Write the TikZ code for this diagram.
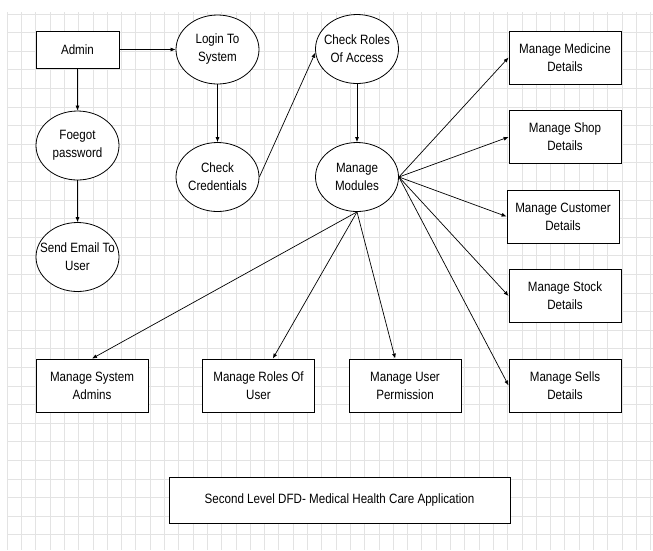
\documentclass[tikz,border=0pt]{standalone}
\usepackage{fontspec}
\setmainfont{Liberation Sans}[FakeStretch=0.86]
\usetikzlibrary{shapes.geometric}
\usetikzlibrary{arrows.meta}
\newcommand{\dfdfont}{\fontsize{13.5}{18}\selectfont}
\tikzstyle{gridline}=[gray!22,line width=0.5pt]
\tikzstyle{entitybox}=[draw,fill=white,line width=0.8pt,minimum width=112pt,minimum height=53pt,inner sep=0pt,align=center,font=\dfdfont]
\tikzstyle{processbubble}=[ellipse,draw,fill=white,line width=0.8pt,minimum width=83pt,minimum height=69pt,inner sep=0pt]
\tikzstyle{bubbletext}=[inner sep=0pt,align=center,font=\dfdfont]
\tikzstyle{dataflow}=[-{Latex[length=5pt,width=4pt]},line width=0.7pt]
\newcommand{\drawbubble}[4]{
\node[processbubble] (#1) at (#2,#3) {};
\node[bubbletext] (#1text) at (#1) {#4};
}

\begin{document}
\begin{tikzpicture}[x=1pt,y=-1pt]
  \useasboundingbox (0,0) rectangle (653,550);
  % background grid
  \foreach \i in {0,1,...,45} {
    \draw[gridline] (7+14.3*\i,12) -- (7+14.3*\i,550);
  }
  \foreach \j in {-17,-16,...,11} {
    \draw[gridline] (7,330+18.6*\j) -- (653,330+18.6*\j);
  }
  % left column
  \node[entitybox,minimum width=83pt,minimum height=37pt] (admin) at (77.5,49.5) {Admin};
  \drawbubble{forgot}{77.5}{145.5}{Foegot\\password}
  \drawbubble{sendmail}{77.5}{257}{Send Email To\\User}
  % login path
  \drawbubble{login}{217.5}{49.5}{Login To\\System}
  \drawbubble{credentials}{217.5}{177}{Check\\Credentials}
  \drawbubble{roles}{357}{49}{Check Roles\\Of Access}
  \drawbubble{modules}{357}{177}{Manage\\Modules}
  % modules
  \node[entitybox] (medicine) at (565,57.5) {Manage Medicine\\Details};
  \node[entitybox] (shop) at (565,137) {Manage Shop\\Details};
  \node[entitybox] (customer) at (563,216.5) {Manage Customer\\Details};
  \node[entitybox] (stock) at (565,296) {Manage Stock\\Details};
  \node[entitybox] (sells) at (565,385.5) {Manage Sells\\Details};
  \node[entitybox] (sysadmins) at (92,385.5) {Manage System\\Admins};
  \node[entitybox] (rolesuser) at (258.5,385.5) {Manage Roles Of\\User};
  \node[entitybox] (permission) at (405,385.5) {Manage User\\Permission};
  \node[entitybox,minimum width=341pt,minimum height=46pt] (title) at (339.5,500) {Second Level DFD- Medical Health Care Application};

  \draw[dataflow] (admin) -- (login); %login
  \draw[dataflow] (admin) -- (forgot);
  \draw[dataflow] (forgot) -- (sendmail);
  \draw[dataflow] (login) -- (credentials);
  \draw[dataflow] (credentials.east) -- (roles.185);
  \draw[dataflow] (roles) -- (modules);
  \foreach \m in {medicine,shop,customer,stock,sells} {
    \draw[dataflow] (modules.east) -- (\m.west);
  }
  \draw[dataflow] (modules.south) -- (sysadmins.north);
  \draw[dataflow] (modules.south) -- (rolesuser.62);
  \draw[dataflow] (modules.south) -- (permission.110);
\end{tikzpicture}
\end{document}
